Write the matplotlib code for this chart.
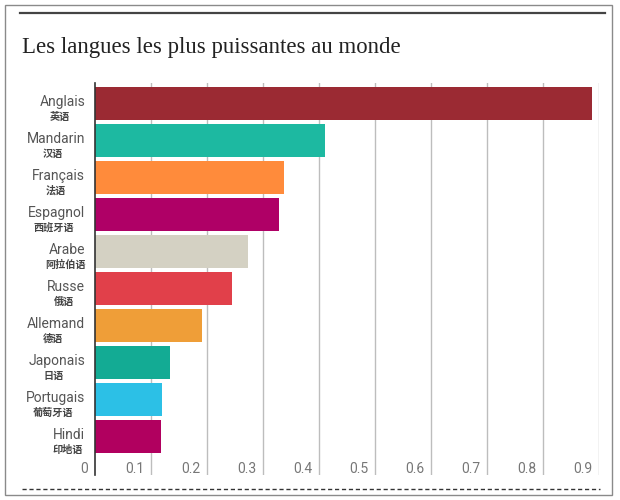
import matplotlib.pyplot as plt
from matplotlib.lines import Line2D
from matplotlib.patches import Rectangle

# data
langues = ["Anglais", "Mandarin", "Français", "Espagnol", "Arabe",
           "Russe", "Allemand", "Japonais", "Portugais", "Hindi"]
chinois = ["英语", "汉语", "法语", "西班牙语", "阿拉伯语",
           "俄语", "德语", "日语", "葡萄牙语", "印地语"]
valeurs = [0.888, 0.411, 0.338, 0.329, 0.273, 0.245, 0.191, 0.134, 0.120, 0.118]
couleurs = ["#9B2A33", "#1DB9A1", "#FF8B3B", "#AF0066", "#D4D1C3",
            "#E1404A", "#EF9E38", "#13AB94", "#2CC0E6", "#B1005F"]
ticks = [0, 0.1, 0.2, 0.3, 0.4, 0.5, 0.6, 0.7, 0.8, 0.9]

W, H = 620, 500
fig = plt.figure(figsize=(W / 100, H / 100), dpi=100)
fig.patch.set_facecolor("white")

# frame, top rule, bottom dashed rule
fig.add_artist(Rectangle((5 / W, 1 - 495 / H), 607 / W, 490 / H, transform=fig.transFigure,
                         fill=False, edgecolor="#8a8a8a", lw=1))
fig.add_artist(Line2D([20 / W, 605 / W], [1 - 13 / H] * 2, transform=fig.transFigure,
                      color="#444444", lw=1.6))
fig.add_artist(Line2D([22 / W, 600 / W], [1 - 489 / H] * 2, transform=fig.transFigure,
                      color="#333333", lw=1, ls=(0, (3, 2))))

fig.text(22 / W, 1 - 53 / H, "Les langues les plus puissantes au monde",
         family="Liberation Serif", fontsize=16.4, color="#222222", va="baseline")

ax = fig.add_axes([95 / W, 1 - 475 / H, 504 / W, 392 / H])
y = list(range(len(langues)))
ax.barh(y, valeurs, height=0.89, color=couleurs, zorder=2)
ax.set_xlim(0, 0.9)
ax.set_ylim(9 + 38.5 / 37, -20.5 / 37)

for s in ["top", "right", "bottom"]:
    ax.spines[s].set_visible(False)
ax.spines["left"].set_color("#333333")
ax.spines["left"].set_linewidth(1.2)
ax.spines["left"].set_zorder(3)
ax.set_xticks([])
ax.set_yticks([])

for t in ticks:
    if t > 0:
        ax.axvline(t, color="#bdbdbd", lw=1, zorder=1)
    ax.annotate(f"{t:g}", xy=(t, 0), xycoords=("data", "axes fraction"),
                xytext=(-5, -0.5), textcoords="offset points", ha="right", va="bottom",
                family="Roboto", fontsize=10, color="#777777")

for i, (nom, cn) in enumerate(zip(langues, chinois)):
    txt = ax.annotate(nom, xy=(0, i), xycoords="data", xytext=(-7, -4),
                      textcoords="offset points", ha="right", va="bottom",
                      family="Roboto", fontsize=10, color="#555555")
    ax.annotate(cn, xy=(0.45, 0), xycoords=txt, xytext=(0, -2),
                textcoords="offset points", ha="center", va="top",
                family=["Noto Sans CJK SC", "DejaVu Sans"], fontsize=7.3,
                fontweight="bold", color="#444444")

fig.savefig("out.png", dpi=100)
